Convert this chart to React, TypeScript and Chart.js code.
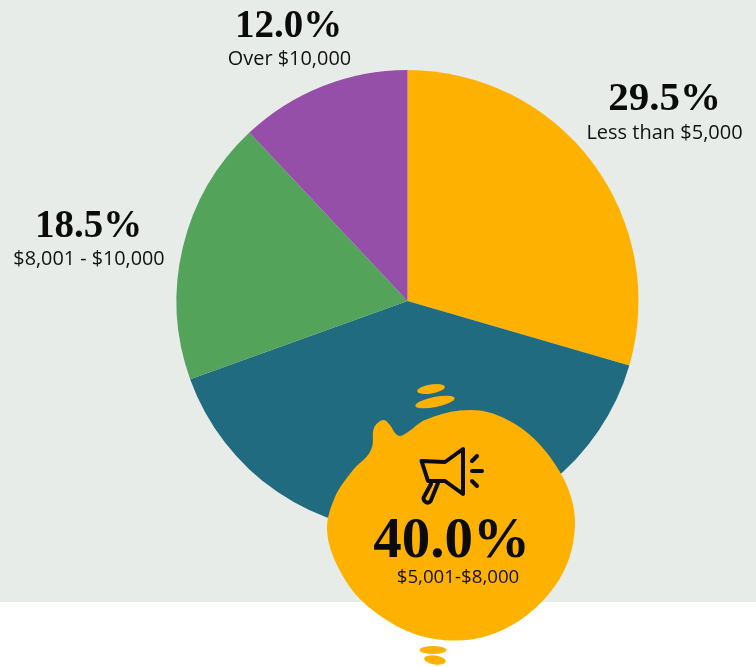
import React, { useEffect, useRef } from "react";
import { Chart, registerables } from "chart.js";

Chart.register(...registerables);

// Share of respondents by income bracket, clockwise from twelve o'clock.
const categories = ["Less than $5,000", "$5,001-$8,000", "$8,001 - $10,000", "Over $10,000"];
const shares = [29.5, 40.0, 18.5, 12.0];
const sliceColors = ["#FFB100", "#206B7F", "#53A35B", "#964FA8"];

// Callout anchor per slice: centre x, percentage baseline, caption baseline, type sizes.
const labelX = [664.5, 451.5, 88.5, 288.5];
const percentY = [110, 557, 237, 37];
const captionY = [139, 583, 265, 65];
const captionX = [664.5, 458, 89, 289.5];
const percentSize = [41, 57, 39, 39];
const captionSize = [20, 18.7, 19.8, 19.9];

const BACKDROP = "#E8ECE8";
const BLOB = "#FFB100";
const PERCENT_FONT = '"Liberation Serif", serif';
const CAPTION_FONT = '"Open Sans", sans-serif';

const blobOutline: [number, number][] = [
  [383, 420], [390, 425], [395, 433], [400, 436], [408, 432], [425, 420], [460, 410.5],
  [493, 413.5], [530, 435], [560, 472], [574, 510], [572, 548], [557, 583], [527, 615],
  [490, 635], [450, 640.5], [407, 631], [363, 602], [338, 567], [327, 530], [335, 497],
  [353, 470], [368, 455], [372.5, 445], [374, 428],
];

const blobSpecks: [number, number, number, number, number][] = [
  [431, 389, 14, 4.5, -0.17],
  [435, 402, 20, 5, -0.2],
  [433, 650, 13.5, 4, 0],
  [435, 660, 11, 4.5, 0.14],
];

// Closed spline whose handles follow the neighbouring chord and scale with each segment.
function traceSmooth(ctx: CanvasRenderingContext2D, pts: [number, number][]) {
  const n = pts.length;
  const tangent = (i: number) => {
    const a = pts[(i - 1 + n) % n];
    const b = pts[(i + 1) % n];
    const dx = b[0] - a[0];
    const dy = b[1] - a[1];
    const len = Math.hypot(dx, dy) || 1;
    return [dx / len, dy / len];
  };
  ctx.beginPath();
  ctx.moveTo(pts[0][0], pts[0][1]);
  for (let i = 0; i < n; i++) {
    const p1 = pts[i];
    const p2 = pts[(i + 1) % n];
    const t1 = tangent(i);
    const t2 = tangent(i + 1);
    const h = Math.hypot(p2[0] - p1[0], p2[1] - p1[1]) / 3;
    ctx.bezierCurveTo(
      p1[0] + t1[0] * h,
      p1[1] + t1[1] * h,
      p2[0] - t2[0] * h,
      p2[1] - t2[1] * h,
      p2[0],
      p2[1],
    );
  }
  ctx.closePath();
}

function drawMegaphone(ctx: CanvasRenderingContext2D) {
  ctx.save();
  ctx.strokeStyle = "#0b0b0b";
  ctx.lineWidth = 4;
  ctx.lineJoin = "round";
  ctx.lineCap = "round";
  ctx.beginPath();
  ctx.moveTo(421.5, 461);
  ctx.lineTo(445, 462);
  ctx.lineTo(463, 449);
  ctx.lineTo(463, 494);
  ctx.lineTo(445, 481);
  ctx.lineTo(428, 481);
  ctx.closePath();
  ctx.stroke();
  ctx.beginPath();
  ctx.moveTo(431, 484);
  ctx.lineTo(424.5, 496);
  ctx.arc(427.5, 498.5, 4, Math.PI * 1.15, Math.PI * 0.2, true);
  ctx.lineTo(438, 483);
  ctx.stroke();
  const rays = [
    [472, 461, 477, 456],
    [472, 471, 482, 471],
    [472, 481, 477, 486],
  ];
  for (const [x1, y1, x2, y2] of rays) {
    ctx.beginPath();
    ctx.moveTo(x1, y1);
    ctx.lineTo(x2, y2);
    ctx.stroke();
  }
  ctx.restore();
}

const backdropPlugin = {
  id: "backdrop",
  beforeDraw(chart: Chart) {
    const { ctx, width } = chart;
    ctx.save();
    ctx.fillStyle = BACKDROP;
    ctx.fillRect(0, 0, width, 602);
    ctx.restore();
  },
};

const calloutPlugin = {
  id: "callouts",
  afterDraw(chart: Chart) {
    const { ctx } = chart;
    ctx.save();
    ctx.fillStyle = BLOB;
    traceSmooth(ctx, blobOutline);
    ctx.fill();
    for (const [x, y, rx, ry, rot] of blobSpecks) {
      ctx.beginPath();
      ctx.ellipse(x, y, rx, ry, rot, 0, Math.PI * 2);
      ctx.fill();
    }
    drawMegaphone(ctx);
    ctx.textAlign = "center";
    ctx.textBaseline = "alphabetic";
    categories.forEach((name, i) => {
      ctx.fillStyle = "#0b0b0b";
      ctx.font = `bold ${percentSize[i]}px ${PERCENT_FONT}`;
      ctx.fillText(`${shares[i].toFixed(1)}%`, labelX[i], percentY[i]);
      ctx.fillStyle = "#111111";
      ctx.font = `${captionSize[i]}px ${CAPTION_FONT}`;
      ctx.fillText(name, captionX[i], captionY[i]);
    });
    ctx.restore();
  },
};

export default function App() {
  const canvasRef = useRef<HTMLCanvasElement>(null);

  useEffect(() => {
    document.body.style.margin = "0";
    const chart = new Chart(canvasRef.current!, {
      type: "pie",
      data: {
        labels: categories,
        datasets: [{ data: shares, backgroundColor: sliceColors, borderWidth: 0 }],
      },
      options: {
        animation: false,
        responsive: false,
        layout: { padding: { left: 176.5, right: 117.5, top: 70, bottom: 135 } },
        plugins: { legend: { display: false }, tooltip: { enabled: false } },
      },
      plugins: [backdropPlugin, calloutPlugin],
    });
    return () => chart.destroy();
  }, []);

  return <canvas ref={canvasRef} width={756} height={667} style={{ display: "block" }} />;
}
